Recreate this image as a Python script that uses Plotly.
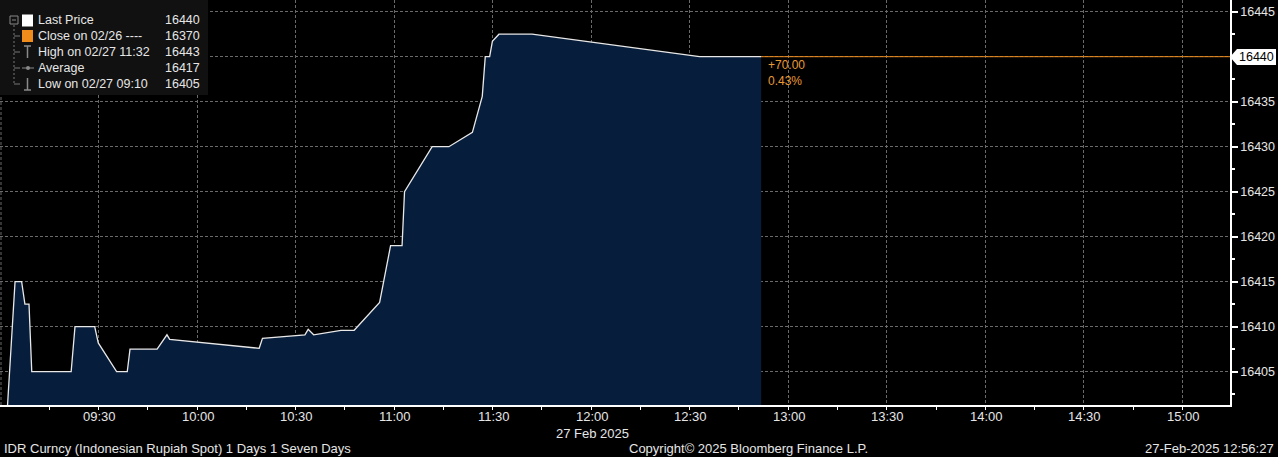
import plotly.graph_objects as go
from datetime import datetime, timedelta

DAY = "2025-02-27"
times = ["09:02:15", "09:04:35", "09:06:35", "09:07:35", "09:08:50", "09:09:40",
         "09:21:40", "09:22:50", "09:28:50", "09:29:55", "09:35:30", "09:38:45",
         "09:39:35", "09:47:50", "09:50:50", "09:51:40", "10:18:55", "10:19:55",
         "10:32:50", "10:33:50", "10:35:30", "10:43:50", "10:47:50", "10:55:35",
         "10:58:55", "11:02:25", "11:03:10", "11:06:00", "11:11:35", "11:16:40",
         "11:23:50", "11:26:50", "11:27:45", "11:29:05", "11:29:55", "11:31:55",
         "11:42:00", "12:33:00", "12:51:45"]
prices = [16401.0, 16415.0, 16415.0, 16412.5, 16412.5, 16405.0,
          16405.0, 16410.0, 16410.0, 16408.2, 16405.0, 16405.0,
          16407.5, 16407.5, 16409.1, 16408.6, 16407.6, 16408.7,
          16409.1, 16409.7, 16409.1, 16409.6, 16409.6, 16412.7,
          16419.0, 16419.0, 16425.0, 16426.7, 16430.0, 16430.0,
          16431.6, 16435.6, 16440.0, 16440.0, 16441.7, 16442.5,
          16442.5, 16440.0, 16440.0]

prev_close = 16370
legend_names = ["Last Price", "Close on 02/26 ----", "High on 02/27 11:32", "Average", "Low on 02/27 09:10"]
legend_values = ["16440", "16370", "16443", "16417", "16405"]
y_ticks = [16405, 16410, 16415, 16420, 16425, 16430, 16435, 16440, 16445]
x_tick_labels = ["09:30", "10:00", "10:30", "11:00", "11:30", "12:00", "12:30",
                 "13:00", "13:30", "14:00", "14:30", "15:00"]

x = [f"{DAY} {t}" for t in times]
last = prices[-1]
chg = last - prev_close
pct = chg / prev_close * 100

X_START = f"{DAY} 09:00:00"
X_END = f"{DAY} 15:14:30"
Y_RANGE = [16401.3, 16446.3]

W, H = 1278, 457
ML, MR, MT, MB = 0, 48, 0, 52
PW, PH = W - ML - MR, H - MT - MB


def px(xp):
    return (xp - ML) / PW


def py(yp):
    return (PH + MT - yp) / PH


ORANGE = "#f08c1c"
ORANGE_T = "#e89a34"
GRAY = "#8a8a8a"
TXT = "#e6e6e6"
FONT = "Liberation Sans, Arial, sans-serif"

fig = go.Figure()
fig.add_trace(go.Scatter(x=x, y=prices, mode="lines", fill="tozeroy",
                         fillcolor="#061d3b", line=dict(color="#e8e8e8", width=1.3),
                         hoverinfo="skip", showlegend=False))
fig.add_trace(go.Scatter(x=[x[-1], X_END], y=[last, last], mode="lines",
                         line=dict(color=ORANGE, width=1), hoverinfo="skip", showlegend=False))

tickvals_x = [f"{DAY} {t}:00" for t in x_tick_labels]
t0 = datetime(2025, 2, 27, 9, 15)
minor_x = [(t0 + timedelta(minutes=30 * i)).strftime("%Y-%m-%d %H:%M:%S") for i in range(12)]

fig.update_layout(
    width=W, height=H, margin=dict(l=ML, r=MR, t=MT, b=MB),
    paper_bgcolor="#000000", plot_bgcolor="#000000",
    font=dict(family=FONT, color=TXT, size=12),
    xaxis=dict(type="date", range=[X_START, X_END], tickmode="array",
               tickvals=tickvals_x, ticktext=x_tick_labels, showticklabels=False,
               showgrid=True, gridcolor="#6a6a6a", griddash="3px,2px", gridwidth=1,
               showline=True, linecolor="#ffffff", linewidth=1.5,
               ticks="outside", ticklen=3, tickcolor="#ffffff",
               minor=dict(tickmode="array", tickvals=minor_x, ticks="outside",
                          ticklen=3, tickcolor="#ffffff", showgrid=False),
               zeroline=False, fixedrange=True),
    yaxis=dict(side="right", range=Y_RANGE, tickmode="array", tickvals=y_ticks,
               ticktext=[str(v) for v in y_ticks],
               showgrid=True, gridcolor="#6a6a6a", griddash="3px,2px", gridwidth=1,
               showline=True, linecolor="#ffffff", linewidth=1.5,
               ticks="outside", ticklen=6, tickwidth=2, tickcolor="#ffffff",
               tickfont=dict(size=12.5, color=TXT, family=FONT),
               minor=dict(dtick=2.5, tick0=16402.5, ticks="outside", ticklen=3,
                          tickcolor="#ffffff", showgrid=False),
               zeroline=False, fixedrange=True),
)

shapes = []
anns = []

# x tick labels (sit close under the axis line)
for tv, tl in zip(tickvals_x, x_tick_labels):
    anns.append(dict(xref="x", yref="paper", x=tv, y=py(416), text=tl, showarrow=False,
                     xanchor="center", yanchor="middle", xshift=1,
                     font=dict(size=13, color=TXT, family=FONT)))

# left edge dashed gridline (09:00)
shapes.append(dict(type="line", xref="paper", yref="paper", x0=px(1), x1=px(1), y0=0, y1=1,
                   line=dict(color="#6a6a6a", width=1, dash="3px,2px")))

# legend box
shapes.append(dict(type="rect", xref="paper", yref="paper", x0=px(0), x1=px(208),
                   y0=py(95), y1=py(0), fillcolor="#111111", line=dict(width=0), layer="above"))
rows = [20.5, 36, 52, 68, 84]
shapes.append(dict(type="line", xref="paper", yref="paper", x0=px(14), x1=px(14),
                   y0=py(25), y1=py(rows[-1]), line=dict(color="#777777", width=1, dash="2px,2px"), layer="above"))
shapes.append(dict(type="rect", xref="paper", yref="paper", x0=px(10), x1=px(18),
                   y0=py(24), y1=py(16), line=dict(color="#888888", width=1), fillcolor="#111111", layer="above"))
shapes.append(dict(type="line", xref="paper", yref="paper", x0=px(12), x1=px(16),
                   y0=py(20), y1=py(20), line=dict(color="#888888", width=1), layer="above"))
for r in rows[1:]:
    shapes.append(dict(type="line", xref="paper", yref="paper", x0=px(14), x1=px(20),
                       y0=py(r), y1=py(r), line=dict(color="#777777", width=1), layer="above"))
shapes.append(dict(type="rect", xref="paper", yref="paper", x0=px(22), x1=px(33),
                   y0=py(rows[0] + 6), y1=py(rows[0] - 6), fillcolor="#ffffff", line=dict(width=0), layer="above"))
shapes.append(dict(type="rect", xref="paper", yref="paper", x0=px(22), x1=px(33),
                   y0=py(rows[1] + 6), y1=py(rows[1] - 6), fillcolor=ORANGE, line=dict(width=0), layer="above"))
shapes.append(dict(type="line", xref="paper", yref="paper", x0=px(24), x1=px(31),
                   y0=py(rows[2] - 6), y1=py(rows[2] - 6), line=dict(color=GRAY, width=1.5), layer="above"))
shapes.append(dict(type="line", xref="paper", yref="paper", x0=px(27.5), x1=px(27.5),
                   y0=py(rows[2] + 6), y1=py(rows[2] - 6), line=dict(color=GRAY, width=1.5), layer="above"))
shapes.append(dict(type="line", xref="paper", yref="paper", x0=px(22), x1=px(34),
                   y0=py(rows[3]), y1=py(rows[3]), line=dict(color=GRAY, width=1), layer="above"))
shapes.append(dict(type="circle", xref="paper", yref="paper", x0=px(26), x1=px(30),
                   y0=py(rows[3] + 2), y1=py(rows[3] - 2), fillcolor=GRAY, line=dict(width=0), layer="above"))
shapes.append(dict(type="line", xref="paper", yref="paper", x0=px(24), x1=px(31),
                   y0=py(rows[4] + 6), y1=py(rows[4] + 6), line=dict(color=GRAY, width=1.5), layer="above"))
shapes.append(dict(type="line", xref="paper", yref="paper", x0=px(27.5), x1=px(27.5),
                   y0=py(rows[4] + 6), y1=py(rows[4] - 6), line=dict(color=GRAY, width=1.5), layer="above"))

for r, name, val in zip(rows, legend_names, legend_values):
    anns.append(dict(xref="paper", yref="paper", x=px(36), y=py(r), text=name, showarrow=False,
                     xanchor="left", yanchor="middle", font=dict(size=12.5, color=TXT, family=FONT)))
    anns.append(dict(xref="paper", yref="paper", x=px(202), y=py(r), text=val, showarrow=False,
                     xanchor="right", yanchor="middle", font=dict(size=12.5, color=TXT, family=FONT)))

anns.append(dict(xref="x", yref="paper", x=x[-1], y=py(65), text=f"+{chg:.2f}", showarrow=False,
                 xanchor="left", yanchor="middle", xshift=5, font=dict(size=12, color=ORANGE_T, family=FONT)))
anns.append(dict(xref="x", yref="paper", x=x[-1], y=py(81), text=f"{pct:.2f}%", showarrow=False,
                 xanchor="left", yanchor="middle", xshift=5, font=dict(size=12, color=ORANGE_T, family=FONT)))

shapes.append(dict(type="path", xref="paper", yref="paper",
                   path=f"M {px(1230)} {py(57)} L {px(1237)} {py(49)} L {px(1276)} {py(49)} "
                        f"L {px(1276)} {py(65)} L {px(1237)} {py(65)} Z",
                   fillcolor="#ffffff", line=dict(width=0), layer="above"))
anns.append(dict(xref="paper", yref="y", x=px(1256), y=last, text=f"{last:.0f}", showarrow=False,
                 xanchor="center", yanchor="middle", font=dict(size=12.5, color="#000000", family=FONT)))

anns.append(dict(xref="x", yref="paper", x=f"{DAY} 12:00:00", y=py(433), text="27 Feb 2025",
                 showarrow=False, xanchor="center", yanchor="middle", xshift=1,
                 font=dict(size=13, color=TXT, family=FONT)))
anns.append(dict(xref="paper", yref="paper", x=px(2), y=py(448),
                 text="IDR Curncy (Indonesian Rupiah Spot) 1 Days 1 Seven Days",
                 showarrow=False, xanchor="left", yanchor="middle", font=dict(size=13, color=TXT, family=FONT)))
anns.append(dict(xref="paper", yref="paper", x=px(748), y=py(448),
                 text="Copyright© 2025 Bloomberg Finance L.P.",
                 showarrow=False, xanchor="center", yanchor="middle", font=dict(size=13, color=TXT, family=FONT)))
anns.append(dict(xref="paper", yref="paper", x=px(1276), y=py(448),
                 text="27-Feb-2025 12:56:27",
                 showarrow=False, xanchor="right", yanchor="middle", font=dict(size=13, color=TXT, family=FONT)))

fig.update_layout(shapes=shapes, annotations=anns)
fig.write_html("out.html", config={"displayModeBar": False},
               post_script="document.body.style.margin='0';document.body.style.background='#000';"
                           "document.body.style.overflow='hidden';")
